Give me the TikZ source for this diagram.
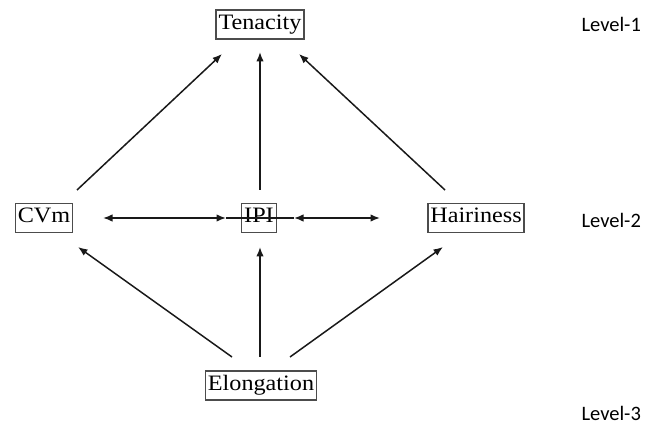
\documentclass[tikz,border=0pt]{standalone}
\usepackage{fontspec}
\setmainfont{Liberation Serif}
\newfontfamily\boxfont[FakeStretch=1.1]{Liberation Serif}
\newfontfamily\lvlfont{Carlito}
\usetikzlibrary{arrows.meta}
\begin{document}
\begin{tikzpicture}[x=1pt,y=-1pt,
  box/.style={draw=black!70,line width=1.5pt,inner xsep=2.5pt,inner ysep=4.5pt,text height=15pt,text depth=5pt,font=\boxfont\fontsize{22}{24}\selectfont,text=black},
  lvl/.style={anchor=west,font=\lvlfont\fontsize{20.5}{22}\selectfont},
  conn/.style={line width=1.5pt,draw=black!90,-{Latex[length=9.5pt,width=7.5pt]}},
  dconn/.style={line width=1.5pt,draw=black!90,{Latex[length=9.5pt,width=7.5pt]}-{Latex[length=9.5pt,width=7.5pt]}}]
\useasboundingbox (0,0) rectangle (665,438);
\node[box] (ten) at (260,24.5) {Tenacity};
\node[box] (cvm) at (44,218) {CVm};
\node[box] (ipi) at (259,218) {IPI};
\node[box] (hai) at (476,218) {Hairiness};
\node[box] (elo) at (261,385.5) {Elongation};
\node[lvl] (l1) at (578,24) {Level-1};
\node[lvl] (l2) at (578,220) {Level-2};
\node[lvl] (l3) at (578,413) {Level-3};
% coordinates for connector ends
\coordinate (cvmT) at (77,190);
\coordinate (tenL) at (222,54);
\coordinate (haiT) at (445,190);
\coordinate (tenR) at (299,54);
\coordinate (ipiT) at (260,190);
\coordinate (tenB) at (260,52);
\coordinate (eloL) at (232,357);
\coordinate (cvmB) at (78,247);
\coordinate (eloM) at (260,357);
\coordinate (ipiB) at (260,247);
\coordinate (eloR) at (290,357);
\coordinate (haiB) at (443,247);
\coordinate (hA) at (103,218);
\coordinate (hB) at (226,218);
\coordinate (hC) at (294,218);
\coordinate (hD) at (380,218);
\draw[conn] (cvmT) -- (tenL);
\draw[conn] (ipiT) -- (tenB);
\draw[conn] (haiT) -- (tenR);
\draw[conn] (eloL) -- (cvmB);
\draw[conn] (eloM) -- (ipiB);
\draw[conn] (eloR) -- (haiB);
\draw[dconn] (hA) -- (hB);
\draw[line width=1.5pt,draw=black!90] (hB) -- (hC);
\draw[dconn] (hC) -- (hD);
\end{tikzpicture}
\end{document}
